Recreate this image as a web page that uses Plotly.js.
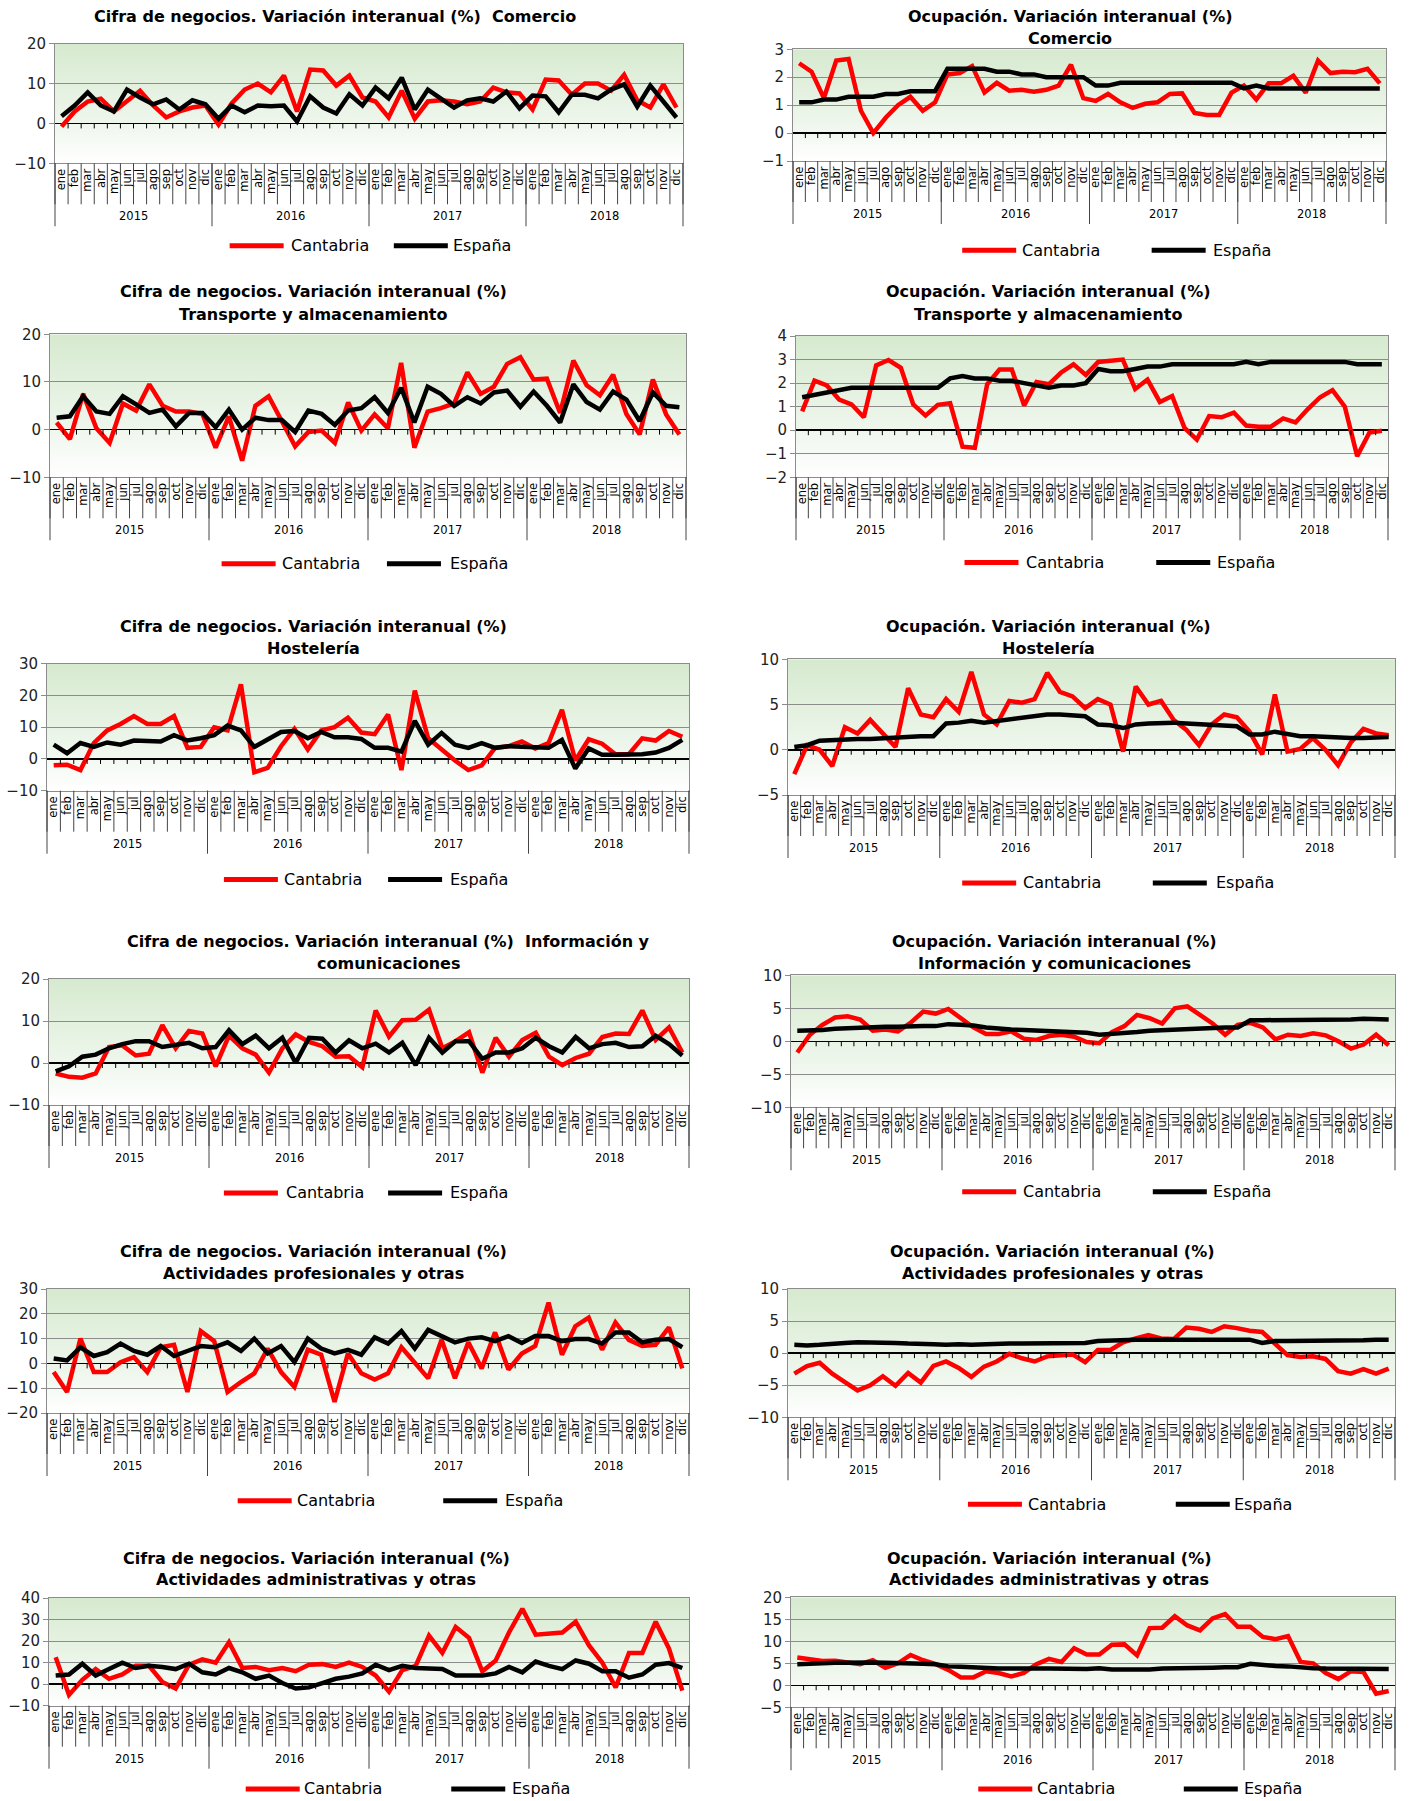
<!DOCTYPE html>
<html><head><meta charset="utf-8">
<script src="https://cdn.plot.ly/plotly-3.0.1.min.js"></script>
<style>body{margin:0;background:#fff}#chart{width:1410px;height:1801px}</style>
</head><body><div id="chart"></div>
<script>
const months = ['ene','feb','mar','abr','may','jun','jul','ago','sep','oct','nov','dic'];
const years = ['2015','2016','2017','2018'];
const seriesNames = ['Cantabria','España'];

const cifraComercioCantabria = [-0.8,3,5.5,6.2,3,5.5,8.2,4.5,1.5,3,4,4.5, -0.3,5,8.5,10,7.8,12,3,13.5,13.3,9.5,12,6.5, 5.5,1.5,8.2,1.2,5.5,5.8,5.5,4.8,5.5,9,7.8,7.5, 3.5,11,10.8,7.2,10,10,8.2,12.2,5.8,4,9.8,4];
const cifraComercioEspana = [1.8,4.5,7.8,4.5,3,8.5,6.5,4.8,6,3.5,5.8,4.8, 1.2,4.5,2.8,4.5,4.3,4.5,0.5,6.8,4,2.5,7.3,4.5, 9,6.3,11.5,3.5,8.5,6.3,4,5.8,6.3,5.5,8,3.8, 7,6.8,2.8,7.2,7.2,6.3,8.5,9.8,4.2,9.5,5.5,1.5];

const ocupComercioCantabria = [2.5,2.2,1.25,2.6,2.65,0.8,0,0.55,1.0,1.3,0.8,1.1, 2.1,2.15,2.4,1.45,1.8,1.52,1.55,1.48,1.55,1.7,2.45,1.25, 1.15,1.4,1.1,0.9,1.05,1.1,1.4,1.42,0.72,0.65,0.65,1.45, 1.7,1.2,1.78,1.78,2.05,1.45,2.6,2.15,2.2,2.18,2.3,1.78];
const ocupComercioEspana = [1.1,1.1,1.2,1.2,1.3,1.3,1.3,1.4,1.4,1.5,1.5,1.5, 2.3,2.3,2.3,2.3,2.2,2.2,2.1,2.1,2.0,2.0,2.0,2.0, 1.7,1.7,1.8,1.8,1.8,1.8,1.8,1.8,1.8,1.8,1.8,1.8, 1.6,1.7,1.6,1.6,1.6,1.6,1.6,1.6,1.6,1.6,1.6,1.6];

const cifraTransporteCantabria = [1.5,-2,7.5,0.3,-2.8,5.5,4,9.5,5,3.8,3.8,3.3, -3.8,2.8,-6.5,5,7,1.5,-3.5,-0.5,-0.2,-2.8,5.7,-0.2, 3.2,0.3,14,-3.8,3.8,4.5,5.5,12,7.5,9,13.8,15.2, 10.5,10.7,3.5,14.5,9.3,7.2,11.5,3.3,-1,10.5,3.2,-1];
const cifraTransporteEspana = [2.5,2.8,7,3.8,3.3,7,5.3,3.5,4.2,0.7,3.5,3.5, 0.5,4.2,0,2.5,2,2,-0.5,4,3.3,1,4,4.5, 6.8,3.5,8.8,1.5,9,7.5,5,6.8,5.5,7.8,8.2,4.8, 8,5,1.5,9.5,5.8,4.2,8,6.3,1.8,7.8,5,4.7];

const ocupTransporteCantabria = [0.8,2.1,1.9,1.3,1.1,0.55,2.75,2.98,2.65,1.1,0.62,1.08, 1.15,-0.7,-0.75,1.95,2.58,2.58,1.05,2.05,1.95,2.45,2.8,2.35, 2.9,2.95,3.0,1.75,2.15,1.2,1.45,0.1,-0.4,0.6,0.55,0.75, 0.2,0.15,0.15,0.5,0.33,0.9,1.4,1.7,1.0,-1.1,-0.1,-0.02];
const ocupTransporteEspana = [1.4,1.5,1.6,1.7,1.8,1.8,1.8,1.8,1.8,1.8,1.8,1.8, 2.2,2.3,2.2,2.2,2.1,2.1,2.0,1.9,1.8,1.9,1.9,2.0, 2.6,2.5,2.5,2.6,2.7,2.7,2.8,2.8,2.8,2.8,2.8,2.8, 2.9,2.8,2.9,2.9,2.9,2.9,2.9,2.9,2.9,2.8,2.8,2.8];

const cifraHosteleriaCantabria = [-2,-1.8,-3.5,5,9,11,13.5,11,11,13.5,3.5,3.8, 10,9,23.5,-4.2,-2.8,4,9.5,3,9,10,13,8.3, 7.8,14,-3.5,21.5,6.5,3,-0.5,-3.5,-2,3.5,4,5.5, 3.3,5,15.5,-0.5,6.2,4.8,1.5,1.5,6.5,5.8,8.8,7];
const cifraHosteleriaEspana = [4.5,1.8,5,3.8,5.2,4.5,5.8,5.5,5.5,7.5,5.8,6.5, 7.5,10.5,9,3.8,6,8.5,8.8,6.5,8.5,6.8,6.8,6.3, 3.5,3.5,2.3,12,4.5,8.2,4.5,3.5,5,3.5,4,3.8, 3.8,3.5,6,-3,3.3,1.3,1.3,1.3,1.5,2,3.5,6];

const ocupHosteleriaCantabria = [-2.7,0.5,0,-1.8,2.5,1.8,3.3,1.8,0.3,6.8,3.9,3.6, 5.6,4.2,8.6,3.9,2.8,5.4,5.2,5.6,8.5,6.4,5.9,4.6, 5.6,5,-0.2,7,5,5.4,3.3,2.2,0.5,2.8,3.9,3.6, 2,-0.5,6.1,-0.2,0.1,1.3,0,-1.7,0.8,2.3,1.8,1.6];
const ocupHosteleriaEspana = [0.3,0.5,1.0,1.1,1.2,1.2,1.2,1.3,1.4,1.5,1.5,1.5, 2.9,3.0,3.2,3.0,3.2,3.4,3.6,3.8,3.9,3.9,3.8,3.7, 2.8,2.7,2.4,2.8,2.9,3.0,3.0,2.9,2.8,2.7,2.7,2.6, 1.7,1.7,2.0,1.8,1.5,1.5,1.4,1.3,1.3,1.3,1.4,1.4];

const cifraInfoCantabria = [-2.5,-3.3,-3.5,-2.5,3.8,4.2,1.8,2.2,9,3.5,7.6,7, -0.8,6.5,3.5,2,-2.3,3.5,6.8,5,4,1.5,1.6,-1, 12.5,6.3,10.2,10.3,12.7,3.5,5.2,7.3,-2.3,6,1.5,5.5, 7.2,1.5,-0.5,1.2,2.2,6.2,7,6.9,12.5,5.5,8.5,2.5];
const cifraInfoEspana = [-2,-0.8,1.5,2,3.5,4.5,5.2,5.2,3.8,4.3,4.8,3.5, 3.8,7.8,4.5,6.5,3.5,6,0,6,5.8,2.5,5.4,3.5, 4.6,2.5,4.8,-0.5,6,2.5,5.2,5.2,1,2.5,2.5,3.5, 6,4,2.5,6.2,3.5,4.5,4.8,3.8,4,6.5,4.5,1.8];

const ocupInfoCantabria = [-1.7,1,2.5,3.6,3.8,3.3,1.6,1.8,1.5,2.8,4.5,4.2, 4.9,3.6,2.1,1.1,1.1,1.5,0.4,0.2,0.8,1.0,0.7,-0.1, -0.3,1.4,2.3,4,3.5,2.7,5,5.3,4,2.7,1,2.5, 2.8,2.1,0.3,1,0.8,1.2,0.9,0,-1.1,-0.5,1,-0.6];
const ocupInfoEspana = [1.6,1.6,1.7,1.9,2.0,2.1,2.1,2.2,2.2,2.3,2.3,2.3, 2.6,2.5,2.4,2.1,1.9,1.8,1.7,1.6,1.5,1.4,1.4,1.3, 1.0,1.1,1.3,1.4,1.6,1.7,1.8,1.9,1.9,2.0,2.1,2.1, 3.2,3.2,3.2,3.3,3.3,3.3,3.3,3.3,3.3,3.4,3.4,3.3];

const cifraProfCantabria = [-3.5,-11.5,10,-3.5,-3.5,0.5,2.5,-3.5,6.5,7.5,-11.5,13, 9,-11.5,-7.5,-4,6,-3.5,-9.5,5.5,3.5,-15.5,4,-4, -6.5,-4,6.5,0.5,-6,9.5,-6,8.5,-2,12.5,-2.5,4, 7,24.5,3.5,15,18.5,5.5,16.5,9.5,7,7.5,14.5,-2];
const cifraProfEspana = [2,1.2,6.5,3,4.5,8,5,3.5,7,3,5,7, 6.5,8.5,5,10,4,7,0.5,10,6,4,5.5,3.5, 10.5,8,13,6,13.5,11,8.5,10,10.5,9,11,8.2, 11,11,9,9.8,9.8,8,12.5,12.5,8.5,9.5,9.8,6.5];

const ocupProfCantabria = [-3.2,-2,-1.5,-3.2,-4.5,-5.8,-5,-3.6,-5.1,-3.1,-4.6,-2, -1.3,-2.3,-3.7,-2.1,-1.3,-0.1,-0.8,-1.3,-0.5,-0.3,-0.2,-1.4, 0.5,0.5,1.7,2.3,2.8,2.3,2.2,4,3.8,3.3,4.2,3.9, 3.5,3.3,1.6,-0.3,-0.6,-0.5,-0.9,-2.8,-3.2,-2.5,-3.2,-2.4];
const ocupProfEspana = [1.3,1.2,1.3,1.5,1.6,1.7,1.7,1.7,1.6,1.5,1.5,1.4, 1.3,1.4,1.3,1.4,1.5,1.5,1.5,1.5,1.5,1.6,1.6,1.6, 1.9,2.0,2.0,2.1,2.1,2.1,2.0,2.1,2.1,2.1,2.1,2.1, 2.1,1.6,1.9,1.9,1.9,1.9,2.0,2.0,2.0,2.0,2.1,2.1];

const cifraAdminCantabria = [12.5,-5,2,7,2.5,4.5,8.5,8.5,1,-2,9,11.5, 10,19.5,7.5,8,6.5,7.5,6,9,9.3,8,10,8, 4,-3.5,6.5,8.5,22.5,14.5,26.5,21.5,6,11,24,35, 23,23.5,24,29,18,10,-1.5,14.5,14.5,29,16.5,-3];
const cifraAdminEspana = [4,4.5,9.5,4,7,10,7.5,8.5,8,7,9.5,5.5, 4.5,7.5,5.5,2.5,4,0.5,-2,-1.5,0.5,2.5,3.5,5, 9,6.5,8.5,7.5,7.3,7,4,3.8,4,5,8,5.5, 10.5,8.5,7,11,9.5,6,6,3,4.5,9,9.8,7.5];

const ocupAdminCantabria = [6.3,5.8,5.5,5.6,5.2,4.8,5.7,4,5,6.9,5.7,4.8, 3.5,1.8,1.8,3.2,2.8,2,2.8,4.8,6,5.3,8.4,7, 7,9.2,9.3,6.8,13,13.1,15.7,13.6,12.5,15.2,16.2,13.3, 13.3,11,10.5,11.2,5.3,5,2.8,1.4,3.2,3,-1.9,-1.3];
const ocupAdminEspana = [4.8,4.8,5.0,5.1,5.2,5.2,5.2,5.1,5.1,5.0,4.9,4.8, 4.3,4.2,4.0,3.9,3.8,3.8,3.7,3.8,3.8,3.7,3.7,3.7, 3.9,3.6,3.6,3.5,3.6,3.8,3.8,3.9,3.9,4.0,4.1,4.1, 4.9,4.6,4.4,4.3,4.0,3.9,3.8,3.8,3.8,3.8,3.8,3.7];

// ---------------- layout helpers ----------------
const W = 1410, H = 1801, S = 1410 / 1228;
const fx = v => v / W;
const fy = v => 1 - v / H;
const FONT = 'DejaVu Sans, sans-serif';
const CIFRA = 'Cifra de negocios. Variación interanual (%)';
const OCUP = 'Ocupación. Variación interanual (%)';

const monthTicks = [];
years.forEach(() => months.forEach(m => monthTicks.push(m)));
const xIdx = monthTicks.map((_, i) => i);
const nCat = monthTicks.length;

const panels = [
  {cant: cifraComercioCantabria, esp: cifraComercioEspana, range: [-10, 20], dtick: 10, box: [55, 683, 43.7, 163.3], title: [CIFRA + '\u00a0 Comercio'], tx: 335, ty: [17], leg: [200, 252, 343, 393, 214]},
  {cant: ocupComercioCantabria, esp: ocupComercioEspana, range: [-1, 3], dtick: 1, box: [793, 1386, 49.3, 161], title: [OCUP, 'Comercio'], tx: 1070, ty: [17, 39], leg: [838, 888, 1003, 1055, 218]},
  {cant: cifraTransporteCantabria, esp: cifraTransporteEspana, range: [-10, 20], dtick: 10, box: [50, 686, 334.3, 477.3], title: [CIFRA, 'Transporte y almacenamiento'], tx: 313, ty: [292, 314], leg: [193, 244, 337, 390, 491]},
  {cant: ocupTransporteCantabria, esp: ocupTransporteEspana, range: [-2, 4], dtick: 1, box: [796, 1388, 336, 477.3], title: [OCUP, 'Transporte y almacenamiento'], tx: 1048, ty: [292, 314], leg: [840, 892, 1007, 1058, 490]},
  {cant: cifraHosteleriaCantabria, esp: cifraHosteleriaEspana, range: [-10, 30], dtick: 10, box: [47, 689, 663.7, 790.7], title: [CIFRA, 'Hostelería'], tx: 313, ty: [626, 648], leg: [195, 246, 338, 390, 766]},
  {cant: ocupHosteleriaCantabria, esp: ocupHosteleriaEspana, range: [-5, 10], dtick: 5, box: [788, 1395, 659.3, 795], title: [OCUP, 'Hostelería'], tx: 1048, ty: [626, 648], leg: [838, 889, 1004, 1057, 769]},
  {cant: cifraInfoCantabria, esp: cifraInfoEspana, range: [-10, 20], dtick: 10, box: [49, 689, 979, 1105], title: [CIFRA + '\u00a0 Información y', 'comunicaciones'], tx: 388, ty: [941, 963], leg: [195, 247, 338, 390, 1039]},
  {cant: ocupInfoCantabria, esp: ocupInfoEspana, range: [-10, 10], dtick: 5, box: [791, 1395, 975.3, 1107.3], title: [OCUP, 'Información y comunicaciones'], tx: 1054, ty: [941, 963], leg: [838, 889, 1004, 1055, 1038]},
  {cant: cifraProfCantabria, esp: cifraProfEspana, range: [-20, 30], dtick: 10, box: [47, 689, 1289, 1413], title: [CIFRA, 'Actividades profesionales y otras'], tx: 313, ty: [1251, 1273], leg: [207, 257, 386, 438, 1307]},
  {cant: ocupProfCantabria, esp: ocupProfEspana, range: [-10, 10], dtick: 5, box: [788, 1395, 1289, 1417.3], title: [OCUP, 'Actividades profesionales y otras'], tx: 1052, ty: [1251, 1273], leg: [843, 894, 1024, 1073, 1310]},
  {cant: cifraAdminCantabria, esp: cifraAdminEspana, range: [-10, 40], dtick: 10, box: [49, 689, 1598, 1705.7], title: [CIFRA, 'Actividades administrativas y otras'], tx: 316, ty: [1558, 1579], leg: [214, 263, 393, 444, 1558]},
  {cant: ocupAdminCantabria, esp: ocupAdminEspana, range: [-5, 20], dtick: 5, box: [791, 1395, 1597.3, 1707.3], title: [OCUP, 'Actividades administrativas y otras'], tx: 1049, ty: [1558, 1579], leg: [852, 901, 1031, 1082, 1558]}
];

const gradSvg = "<svg xmlns='http://www.w3.org/2000/svg' width='100' height='100' preserveAspectRatio='none'><defs><linearGradient id='g' x1='0' y1='0' x2='0' y2='1'><stop offset='0' stop-color='#d6eacf'/><stop offset='0.65' stop-color='#eef6ec'/><stop offset='1' stop-color='#ffffff'/></linearGradient></defs><rect width='100' height='100' fill='url(#g)'/></svg>";
const grad = 'data:image/svg+xml;charset=utf-8,' + encodeURIComponent(gradSvg);

const data = [], shapes = [], annotations = [], images = [];
const layout = {
  width: W, height: H, margin: {l: 0, r: 0, t: 0, b: 0},
  paper_bgcolor: '#ffffff', plot_bgcolor: 'rgba(0,0,0,0)',
  showlegend: false, font: {family: FONT, color: '#000'}
};
const domX = b => (b + 0.5) / nCat;

panels.forEach((p, i) => {
  const n = i === 0 ? '' : String(i + 1);
  const xa = 'x' + n, ya = 'y' + n;
  const [x0, x1, y0, y1] = p.box;

  data.push({x: xIdx, y: p.cant, type: 'scatter', mode: 'lines', name: seriesNames[0],
    line: {color: '#ff0000', width: 4.5}, xaxis: xa, yaxis: ya, hoverinfo: 'skip'});
  data.push({x: xIdx, y: p.esp, type: 'scatter', mode: 'lines', name: seriesNames[1],
    line: {color: '#000000', width: 4.5}, xaxis: xa, yaxis: ya, hoverinfo: 'skip'});

  layout['xaxis' + n] = {
    domain: [fx(x0), fx(x1)], anchor: ya, range: [-0.5, nCat - 0.5],
    tickmode: 'array', tickvals: xIdx, ticktext: monthTicks, tickangle: -90, ticks: '',
    showgrid: false, zeroline: false, showline: true, mirror: true, linecolor: '#8c8c8c', linewidth: 1,
    tickfont: {size: 11.5, family: FONT, color: '#000'}, fixedrange: true
  };
  layout['yaxis' + n] = {
    domain: [fy(y1), fy(y0)], anchor: xa, range: p.range, tickmode: 'linear', tick0: 0, dtick: p.dtick,
    showgrid: true, gridcolor: '#8c8c8c', gridwidth: 1,
    zeroline: true, zerolinecolor: '#000000', zerolinewidth: 1.5,
    showline: true, mirror: true, linecolor: '#8c8c8c', linewidth: 1,
    ticks: 'outside', ticklen: 5, tickcolor: '#8c8c8c',
    tickfont: {size: 15, family: FONT, color: '#222'}, fixedrange: true
  };

  images.push({source: grad, xref: 'paper', yref: 'paper', x: fx(x0), y: fy(y0),
    sizex: fx(x1) - fx(x0), sizey: (y1 - y0) / H, xanchor: 'left', yanchor: 'top',
    sizing: 'stretch', layer: 'below'});

  // small ticks on the zero line
  const zPx = y0 + (p.range[1] - 0) / (p.range[1] - p.range[0]) * (y1 - y0);
  let path = '';
  for (let k = 0; k < nCat - 1; k++) {
    const b = domX(k + 0.5);
    path += `M${b},${fy(zPx)}L${b},${fy(zPx + 5)}`;
  }
  shapes.push({type: 'path', xref: xa + ' domain', yref: 'paper', path, line: {color: '#000', width: 1}});

  // month cell dividers
  path = '';
  for (let k = 0; k <= nCat; k++) {
    const b = domX(k - 0.5);
    path += `M${b},${fy(y1)}L${b},${fy(y1 + 41)}`;
  }
  shapes.push({type: 'path', xref: xa + ' domain', yref: 'paper', path, line: {color: '#444', width: 1}});

  // year dividers
  path = '';
  for (let j = 0; j <= years.length; j++) {
    const b = domX(j * months.length - 0.5);
    path += `M${b},${fy(y1)}L${b},${fy(y1 + 63)}`;
  }
  shapes.push({type: 'path', xref: xa + ' domain', yref: 'paper', path, line: {color: '#444', width: 1}});

  years.forEach((yr, j) => annotations.push({
    text: yr, xref: xa, yref: 'paper', x: j * months.length + (months.length - 1) / 2, y: fy(y1 + 53),
    showarrow: false, xanchor: 'center', yanchor: 'middle', font: {size: 11.5, family: FONT, color: '#000'}
  }));

  p.title.forEach((t, k) => annotations.push({
    text: '<b>' + t + '</b>', xref: 'paper', yref: 'paper', x: fx(p.tx), y: fy(p.ty[k]),
    showarrow: false, xanchor: 'center', yanchor: 'middle', font: {size: 16, family: FONT, color: '#000'}
  }));

  const [r, rt, bl, bt, ly] = p.leg.map(v => v * S);
  shapes.push({type: 'line', xref: 'paper', yref: 'paper', x0: fx(r), x1: fx(r + 54), y0: fy(ly), y1: fy(ly), line: {color: '#ff0000', width: 5}});
  shapes.push({type: 'line', xref: 'paper', yref: 'paper', x0: fx(bl), x1: fx(bl + 54), y0: fy(ly), y1: fy(ly), line: {color: '#000000', width: 5}});
  annotations.push({text: seriesNames[0], xref: 'paper', yref: 'paper', x: fx(rt), y: fy(ly), showarrow: false,
    xanchor: 'left', yanchor: 'middle', font: {size: 16, family: FONT, color: '#000'}});
  annotations.push({text: seriesNames[1], xref: 'paper', yref: 'paper', x: fx(bt), y: fy(ly), showarrow: false,
    xanchor: 'left', yanchor: 'middle', font: {size: 16, family: FONT, color: '#000'}});
});

layout.shapes = shapes;
layout.annotations = annotations;
layout.images = images;

Plotly.newPlot('chart', data, layout, {staticPlot: true, displayModeBar: false});
</script>
</body></html>
